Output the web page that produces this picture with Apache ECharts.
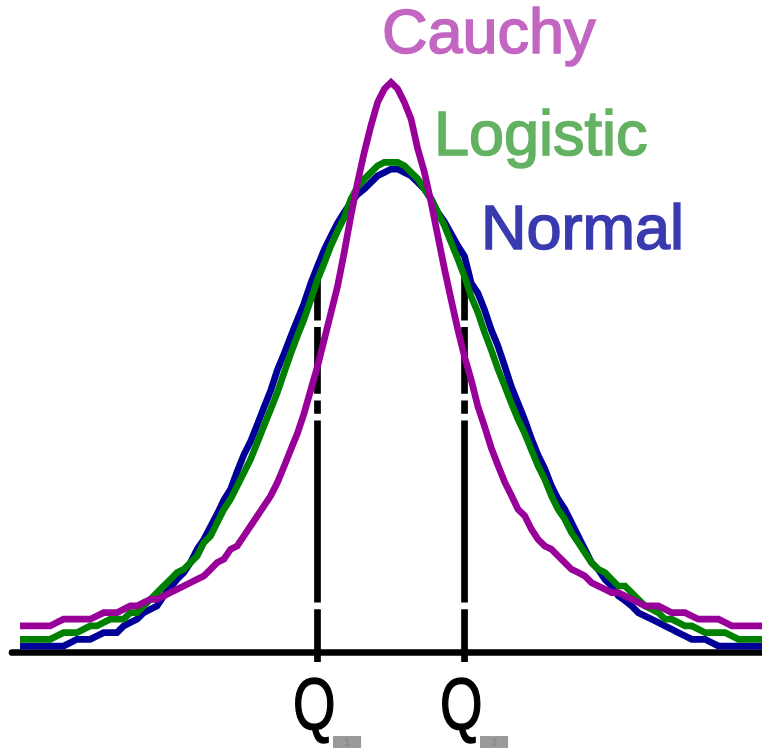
<!DOCTYPE html>
<html><head><meta charset="utf-8">
<script src="https://cdn.jsdelivr.net/npm/echarts@6/dist/echarts.min.js"></script>
<style>html,body{margin:0;padding:0;background:#fff}#c{width:762px;height:748px}</style>
</head><body><div id="c"></div>
<script>
// Sample positions: one per pixel column of the source figure,
// in units of the semi-interquartile range (Q1 = -1, Q3 = +1).
const xGrid = Array.from({length: 111}, (_, i) => (i - 55) / 11);

// Densities (same quartiles for all three curves)
const cauchy = [
  0.0122,0.0122,0.0122,0.0122,0.0122,0.0141,0.0160,0.0160,0.0160,0.0160,
  0.0160,0.0178,0.0197,0.0197,0.0197,0.0216,0.0235,0.0235,0.0254,0.0272,
  0.0272,0.0291,0.0310,0.0329,0.0347,0.0366,0.0385,0.0404,0.0441,0.0479,
  0.0498,0.0554,0.0573,0.0629,0.0686,0.0742,0.0798,0.0855,0.0930,0.1020,
  0.1114,0.1207,0.1320,0.1452,0.1583,0.1733,0.1884,0.2034,0.2225,0.2432,
  0.2620,0.2789,0.2939,0.3071,0.3146,0.3183,0.3146,0.3071,0.2977,0.2808,
  0.2676,0.2507,0.2319,0.2132,0.1959,0.1790,0.1639,0.1508,0.1358,0.1245,
  0.1125,0.1027,0.0933,0.0858,0.0779,0.0742,0.0667,0.0610,0.0573,0.0554,
  0.0516,0.0479,0.0441,0.0423,0.0404,0.0366,0.0347,0.0329,0.0310,0.0310,
  0.0291,0.0272,0.0254,0.0235,0.0235,0.0235,0.0216,0.0197,0.0197,0.0197,
  0.0178,0.0160,0.0160,0.0160,0.0160,0.0141,0.0122,0.0122,0.0122,0.0122,
  0.0122
];
const logistic = [
  0.0047,0.0047,0.0047,0.0047,0.0047,0.0066,0.0084,0.0084,0.0084,0.0103,
  0.0122,0.0122,0.0141,0.0160,0.0160,0.0160,0.0197,0.0197,0.0235,0.0272,
  0.0310,0.0347,0.0385,0.0423,0.0441,0.0479,0.0516,0.0592,0.0629,0.0704,
  0.0779,0.0836,0.0911,0.0986,0.1061,0.1155,0.1249,0.1343,0.1437,0.1549,
  0.1655,0.1756,0.1850,0.1959,0.2071,0.2165,0.2263,0.2346,0.2421,0.2526,
  0.2594,0.2639,0.2676,0.2714,0.2733,0.2733,0.2733,0.2714,0.2676,0.2639,
  0.2582,0.2526,0.2451,0.2376,0.2282,0.2188,0.2090,0.1977,0.1887,0.1775,
  0.1677,0.1568,0.1474,0.1377,0.1286,0.1207,0.1114,0.1023,0.0948,0.0855,
  0.0779,0.0723,0.0648,0.0592,0.0535,0.0479,0.0441,0.0423,0.0385,0.0347,
  0.0347,0.0310,0.0272,0.0235,0.0216,0.0197,0.0160,0.0160,0.0141,0.0122,
  0.0122,0.0103,0.0084,0.0084,0.0084,0.0084,0.0066,0.0047,0.0047,0.0047,
  0.0047
];
const normal = [
  0.0009,0.0009,0.0009,0.0009,0.0009,0.0009,0.0009,0.0028,0.0047,0.0047,
  0.0047,0.0066,0.0084,0.0084,0.0084,0.0122,0.0141,0.0160,0.0197,0.0216,
  0.0235,0.0291,0.0340,0.0385,0.0423,0.0479,0.0554,0.0610,0.0682,0.0753,
  0.0832,0.0892,0.0993,0.1087,0.1162,0.1256,0.1354,0.1448,0.1564,0.1655,
  0.1752,0.1846,0.1940,0.2053,0.2147,0.2240,0.2316,0.2391,0.2451,0.2507,
  0.2552,0.2582,0.2620,0.2657,0.2676,0.2695,0.2695,0.2676,0.2657,0.2620,
  0.2582,0.2526,0.2451,0.2398,0.2330,0.2263,0.2203,0.2053,0.1996,0.1902,
  0.1790,0.1699,0.1587,0.1470,0.1377,0.1283,0.1177,0.1084,0.1008,0.0911,
  0.0836,0.0779,0.0704,0.0629,0.0554,0.0479,0.0441,0.0385,0.0347,0.0291,
  0.0265,0.0235,0.0197,0.0178,0.0160,0.0141,0.0122,0.0103,0.0084,0.0066,
  0.0047,0.0047,0.0047,0.0028,0.0009,0.0009,0.0009,0.0009,0.0009,0.0009,
  0.0009
];

// Quartile markers: position and the dashed vertical pieces (density ranges)
const quartileX = [-1, 1];
const quartileSub = ['1', '3'];
const q1Pieces = [[-0.0081,0.0216],[0.0254,0.1279],[0.1317,0.1392],[0.1429,0.1805],[0.1842,0.2071]];
const q3Pieces = [[-0.0081,0.0216],[0.0254,0.1279],[0.1317,0.1392],[0.1429,0.1805],[0.1842,0.2090]];

const curveNames = ['Normal', 'Logistic', 'Cauchy'];
const curveColors = ['#000099', '#008000', '#990099'];
const textColors = ['#3a3ab0', '#62b262', '#c266c2'];

const chart = echarts.init(document.getElementById('c'), null, {renderer: 'canvas'});
const pairs = v => xGrid.map((x, i) => [x, v[i]]);
function pieceData(x, pieces) {
  const d = [];
  pieces.forEach((p, k) => { if (k) d.push([x, '-']); d.push([x, p[0]], [x, p[1]]); });
  return d;
}
const LW = 6.7;
const curves = [normal, logistic, cauchy];
const series = [];
[q1Pieces, q3Pieces].forEach((pc, k) => series.push({
  type: 'line', data: pieceData(quartileX[k], pc), clip: false, symbol: 'none',
  connectNulls: false, silent: true, z: 2,
  lineStyle: {color: '#000', width: LW, cap: 'butt'}
}));
curves.forEach((v, k) => series.push({
  type: 'line', name: curveNames[k], data: pairs(v), symbol: 'none', showSymbol: false,
  silent: true, z: 3 + k,
  lineStyle: {color: curveColors[k], width: LW, cap: 'square', join: 'miter'}
}));

const font = sz => sz + 'px "Liberation Sans", Arial, sans-serif';
const label = (txt, x, y, c) => ({type: 'text', x: x, y: y, z: 20,
  style: {text: txt, font: font(63), fill: c, stroke: c, lineWidth: 1.6,
    align: 'left', verticalAlign: 'middle', textAlign: 'left', textVerticalAlign: 'middle'}});
const graphic = [
  label('Cauchy', 382, 36, textColors[2]),
  label('Logistic', 434, 137.5, textColors[1]),
  label('Normal', 481, 231.5, textColors[0])
];
const qLeft = [293, 440];
quartileX.forEach((q, k) => {
  graphic.push({type: 'text', x: qLeft[k], y: 709, scaleX: 0.76, z: 20,
    style: {text: 'Q', font: font(72), fill: '#000', stroke: '#000', lineWidth: 1.5,
      align: 'left', verticalAlign: 'middle', textAlign: 'left', textVerticalAlign: 'middle'}});
  graphic.push({type: 'text', x: qLeft[k] + 40, y: 736, z: 20,
    style: {text: quartileSub[k], font: 'bold 11px "Liberation Sans", sans-serif', fill: '#8a8a8a', backgroundColor: '#9a9a9a', padding: [1, 11, 2, 11], align: 'left', verticalAlign: 'top', textAlign: 'left', textVerticalAlign: 'top'}});
});

chart.setOption({
  animation: false,
  backgroundColor: '#fff',
  grid: {left: 12, right: 0, top: 0, bottom: 95.4, containLabel: false, outerBoundsMode: 'none'},
  xAxis: {type: 'value', min: -5.155, max: 5.046,
    axisLine: {show: true, onZero: false, lineStyle: {color: '#000', width: LW}},
    axisTick: {show: false}, axisLabel: {show: false}, splitLine: {show: false}},
  yAxis: {type: 'value', min: -0.0028, max: 0.3647, show: false, splitLine: {show: false}},
  series: series,
  graphic: graphic
});
</script></body></html>
